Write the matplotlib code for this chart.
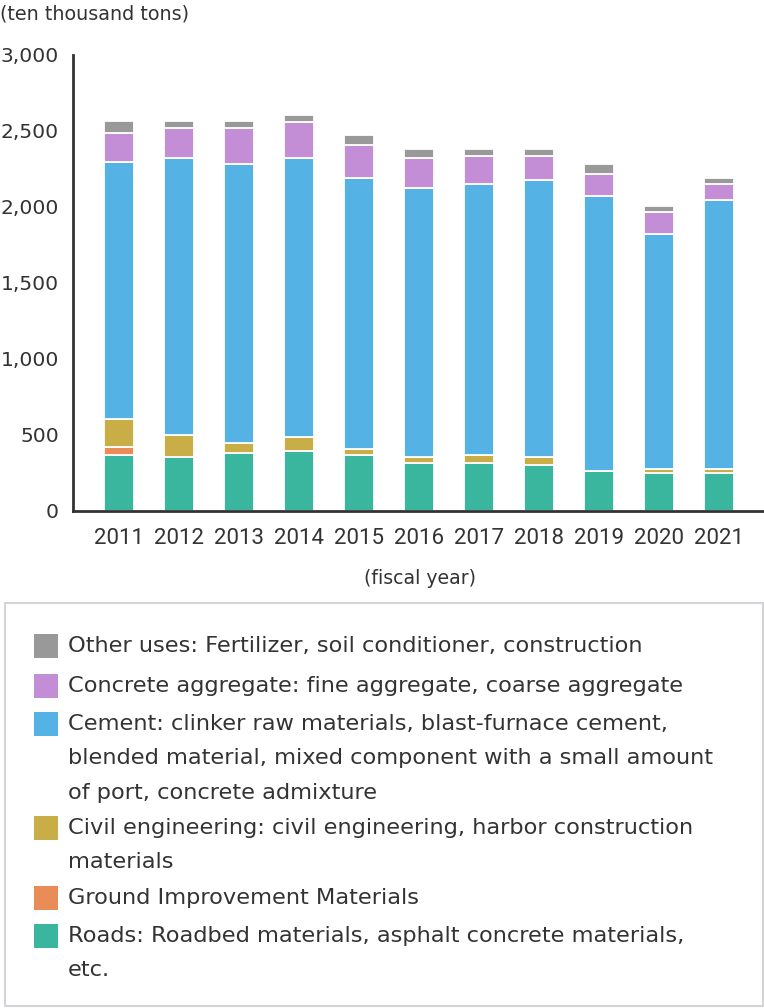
import matplotlib
matplotlib.use("Agg")
import matplotlib.pyplot as plt
from matplotlib.patches import Rectangle
import numpy as np

years = ["2011", "2012", "2013", "2014", "2015", "2016", "2017", "2018", "2019", "2020", "2021"]
roads = [370, 356, 382, 393, 369, 316, 316, 303, 264, 251, 251]
ground = [50, 0, 0, 0, 0, 0, 0, 0, 0, 0, 0]
civil = [183, 144, 68, 94, 41, 40, 53, 53, 0, 26, 26]
cement = [1690, 1820, 1831, 1833, 1779, 1768, 1781, 1820, 1807, 1545, 1768]
concrete = [196, 197, 236, 236, 221, 196, 183, 157, 144, 144, 105]
other = [77, 50, 50, 50, 65, 64, 51, 51, 66, 40, 39]

series_names = [
    "Roads: Roadbed materials, asphalt concrete materials,\netc.",
    "Ground Improvement Materials",
    "Civil engineering: civil engineering, harbor construction\nmaterials",
    "Cement: clinker raw materials, blast-furnace cement,\nblended material, mixed component with a small amount\nof port, concrete admixture",
    "Concrete aggregate: fine aggregate, coarse aggregate",
    "Other uses: Fertilizer, soil conditioner, construction",
]
colors = ["#3bb69e", "#e98c57", "#c9ae47", "#54b2e4", "#c38ed6", "#999999"]
yticks = [0, 500, 1000, 1500, 2000, 2500, 3000]

FONT = ["DejaVu Sans"]
TICKFONT = ["Liberation Sans Narrow", "Roboto", "DejaVu Sans"]
TXT = "#333333"

W, H = 764, 1008
fig = plt.figure(figsize=(W / 100, H / 100), dpi=100)

def fx(px):
    return px / W

def fy(py):
    return 1 - py / H

ax = fig.add_axes([fx(73), fy(511), fx(764) - fx(73), fy(55) - fy(511)])
x = np.arange(len(years))
data = [roads, ground, civil, cement, concrete, other]
bottom = np.zeros(len(years))
for vals, col in zip(data, colors):
    v = np.array(vals, dtype=float)
    ax.bar(x, v, width=0.5, bottom=bottom, color=col, edgecolor="white", linewidth=1.3)
    bottom += v

ax.set_xlim(-0.767, 10.75)
ax.set_ylim(0, 3000)
ax.set_yticks(yticks)
ax.set_yticklabels([f"{t:,}" for t in yticks], fontfamily=FONT, fontsize=14.6, color=TXT)
ax.set_xticks(x)
ax.set_xticklabels(years, fontfamily=TICKFONT, fontsize=16, color=TXT)
ax.tick_params(axis="y", length=0, pad=10)
ax.tick_params(axis="x", length=0, pad=12)
for s in ["top", "right"]:
    ax.spines[s].set_visible(False)
for s in ["left", "bottom"]:
    ax.spines[s].set_color("#333333")
    ax.spines[s].set_linewidth(2)

fig.text(fx(0), fy(14), "(ten thousand tons)", fontfamily=FONT, fontsize=13.8,
         color=TXT, ha="left", va="center")
fig.text(fx(420), fy(578), "(fiscal year)", fontfamily=FONT, fontsize=13.6,
         color=TXT, ha="center", va="center")

# legend box
fig.patches.append(Rectangle((fx(5), fy(1006)), fx(763) - fx(5), fy(603) - fy(1006),
                             transform=fig.transFigure, facecolor="white",
                             edgecolor="#d4d4d8", linewidth=1.5))
legend_rows = [(646, 5), (686, 4), (724, 3), (828, 2), (898, 1), (936, 0)]
line_h = 34.5
for ycen, idx in legend_rows:
    fig.patches.append(Rectangle((fx(34), fy(ycen + 12)), fx(24), fy(0) - fy(24),
                                 transform=fig.transFigure, facecolor=colors[idx],
                                 edgecolor="none"))
    for k, line in enumerate(series_names[idx].split("\n")):
        fig.text(fx(68), fy(ycen + k * line_h), line, fontfamily=FONT, fontsize=16.2,
                 color=TXT, ha="left", va="center")

fig.savefig("out.png", dpi=100, facecolor="white")
